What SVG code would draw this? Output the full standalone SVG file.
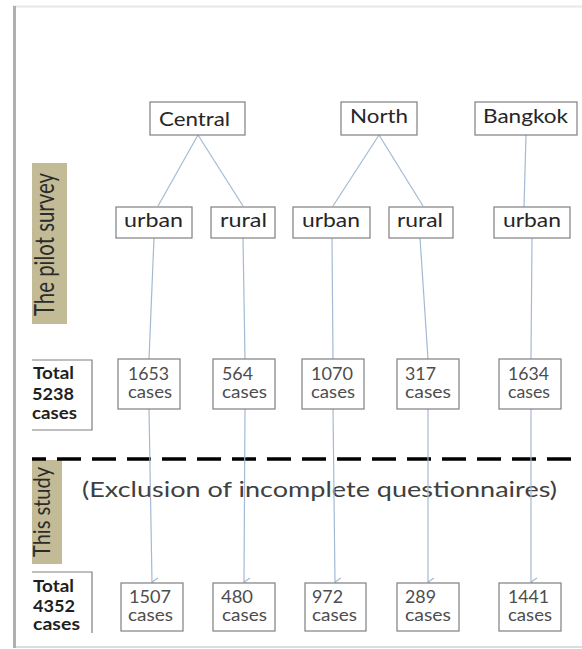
<svg xmlns="http://www.w3.org/2000/svg" width="582" height="649" viewBox="0 0 582 649">
<style>
.box{fill:#fff;stroke:#7f7f7f;stroke-width:1.2}
.lbl{font-family:Lato,"Open Sans",sans-serif;font-size:19px;fill:#262626}
.num{font-family:Lato,"Open Sans",sans-serif;font-size:17px;fill:#4d4d4d}
.tot{font-family:Lato,"Open Sans",sans-serif;font-size:17px;font-weight:bold;fill:#1f1f1f}
.side{font-family:Lato,"Open Sans",sans-serif;fill:#2b2b2b}
.con{stroke:#a3bad3;stroke-width:1.2;fill:none}
</style>
<defs>
<marker id="arr" markerUnits="userSpaceOnUse" markerWidth="12" markerHeight="12" refX="6" refY="8" orient="auto-start-reverse" viewBox="0 0 12 12">
<path d="M2,2 L6,8 L10,2" fill="none" stroke="#a3bad3" stroke-width="1.2"/>
</marker>
</defs>
<rect width="582" height="649" fill="#fff"/>
<g id="frame">
<line x1="13" y1="6.5" x2="582" y2="6.5" stroke="#e8e8e8" stroke-width="2"/>
<line x1="13" y1="647" x2="582" y2="647" stroke="#dcdcdc" stroke-width="2"/>
<line x1="14.5" y1="6" x2="14.5" y2="648" stroke="#b0b0b0" stroke-width="3"/>
</g>
<g id="labels">
<rect x="32" y="163" width="35" height="161" fill="#c3bb96"/>
<text class="side" font-size="26" transform="translate(54,316) rotate(-90)" textLength="143" lengthAdjust="spacingAndGlyphs">The pilot survey</text>
<rect x="32" y="460" width="30" height="104" fill="#c3bb96"/>
<text class="side" font-size="24" transform="translate(50,557) rotate(-90)" textLength="90" lengthAdjust="spacingAndGlyphs">This study</text>
<line x1="32" y1="459" x2="578" y2="459" stroke="#000" stroke-width="3.5" stroke-dasharray="24 11" stroke-dashoffset="10"/>
<text x="82" y="497" font-family="Lato,'Open Sans',sans-serif" font-size="22" fill="#404040" textLength="475" lengthAdjust="spacingAndGlyphs">(Exclusion of incomplete questionnaires)</text>
</g>
<g id="connectors">
<line class="con" x1="198" y1="135" x2="158" y2="206"/>
<line class="con" x1="198" y1="135" x2="243" y2="206"/>
<line class="con" x1="379" y1="135" x2="333" y2="206"/>
<line class="con" x1="379" y1="135" x2="423" y2="206"/>
<line class="con" x1="526" y1="135" x2="524" y2="207"/>
<line class="con" x1="154" y1="238" x2="149" y2="359"/>
<line class="con" x1="243" y1="238" x2="245" y2="359"/>
<line class="con" x1="332" y1="238" x2="333" y2="359"/>
<line class="con" x1="420" y1="238" x2="428" y2="359"/>
<line class="con" x1="532" y1="238" x2="531" y2="359"/>
<line class="con" x1="149" y1="409" x2="152" y2="582" marker-end="url(#arr)"/>
<line class="con" x1="245" y1="409" x2="244" y2="582" marker-end="url(#arr)"/>
<line class="con" x1="333" y1="409" x2="335" y2="582" marker-end="url(#arr)"/>
<line class="con" x1="428" y1="409" x2="428" y2="582" marker-end="url(#arr)"/>
<line class="con" x1="531" y1="409" x2="531" y2="582" marker-end="url(#arr)"/>
</g>
<g id="central"><rect class="box" x="150" y="102" width="95" height="33"/><text class="lbl" x="159" y="126" textLength="71" lengthAdjust="spacingAndGlyphs">Central</text></g>
<g id="north"><rect class="box" x="341" y="102" width="76" height="33"/><text class="lbl" x="350" y="123" textLength="58" lengthAdjust="spacingAndGlyphs">North</text></g>
<g id="bangkok"><rect class="box" x="475" y="102" width="102" height="33"/><text class="lbl" x="483" y="123" textLength="85" lengthAdjust="spacingAndGlyphs">Bangkok</text></g>
<g id="c-urban"><rect class="box" x="116" y="207" width="76" height="31"/><text class="lbl" x="124" y="227" textLength="59" lengthAdjust="spacingAndGlyphs">urban</text></g>
<g id="c-rural"><rect class="box" x="211" y="207" width="64" height="31"/><text class="lbl" x="220" y="227" textLength="47" lengthAdjust="spacingAndGlyphs">rural</text></g>
<g id="n-urban"><rect class="box" x="293" y="207" width="77" height="31"/><text class="lbl" x="302" y="227" textLength="58" lengthAdjust="spacingAndGlyphs">urban</text></g>
<g id="n-rural"><rect class="box" x="389" y="207" width="64" height="31"/><text class="lbl" x="397" y="227" textLength="46" lengthAdjust="spacingAndGlyphs">rural</text></g>
<g id="b-urban"><rect class="box" x="494" y="207" width="76" height="31"/><text class="lbl" x="503" y="227" textLength="58" lengthAdjust="spacingAndGlyphs">urban</text></g>
<g id="total-pilot"><path d="M32,360 H92 V430 H32" fill="none" stroke="#7f7f7f" stroke-width="1.2"/>
<text class="tot" x="33" y="379" textLength="41" lengthAdjust="spacingAndGlyphs">Total</text>
<text class="tot" x="32" y="400" textLength="42" lengthAdjust="spacingAndGlyphs">5238</text>
<text class="tot" x="32" y="419" textLength="45" lengthAdjust="spacingAndGlyphs">cases</text></g>
<g id="p1653"><rect class="box" x="118" y="359" width="62" height="50"/><text class="num" x="128" y="380" textLength="41" lengthAdjust="spacingAndGlyphs">1653</text><text class="num" x="128" y="398" textLength="44" lengthAdjust="spacingAndGlyphs">cases</text></g>
<g id="p564"><rect class="box" x="213" y="359" width="62" height="50"/><text class="num" x="222" y="380" textLength="31" lengthAdjust="spacingAndGlyphs">564</text><text class="num" x="222" y="398" textLength="45" lengthAdjust="spacingAndGlyphs">cases</text></g>
<g id="p1070"><rect class="box" x="302" y="359" width="62" height="50"/><text class="num" x="311" y="380" textLength="42" lengthAdjust="spacingAndGlyphs">1070</text><text class="num" x="311" y="398" textLength="44" lengthAdjust="spacingAndGlyphs">cases</text></g>
<g id="p317"><rect class="box" x="397" y="359" width="62" height="50"/><text class="num" x="405" y="380" textLength="31" lengthAdjust="spacingAndGlyphs">317</text><text class="num" x="405" y="398" textLength="46" lengthAdjust="spacingAndGlyphs">cases</text></g>
<g id="p1634"><rect class="box" x="499" y="359" width="62" height="50"/><text class="num" x="508" y="380" textLength="41" lengthAdjust="spacingAndGlyphs">1634</text><text class="num" x="508" y="398" textLength="42" lengthAdjust="spacingAndGlyphs">cases</text></g>
<g id="total-study"><path d="M32,572 H92 V633" fill="none" stroke="#7f7f7f" stroke-width="1.2"/>
<text class="tot" x="33" y="592" textLength="41" lengthAdjust="spacingAndGlyphs">Total</text>
<text class="tot" x="33" y="612" textLength="42" lengthAdjust="spacingAndGlyphs">4352</text>
<text class="tot" x="33" y="630" textLength="47" lengthAdjust="spacingAndGlyphs">cases</text></g>
<g id="s1507"><rect class="box" x="121" y="583" width="62" height="48"/><text class="num" x="129" y="603" textLength="42" lengthAdjust="spacingAndGlyphs">1507</text><text class="num" x="128" y="621" textLength="45" lengthAdjust="spacingAndGlyphs">cases</text></g>
<g id="s480"><rect class="box" x="213" y="583" width="62" height="48"/><text class="num" x="221" y="603" textLength="32" lengthAdjust="spacingAndGlyphs">480</text><text class="num" x="222" y="621" textLength="45" lengthAdjust="spacingAndGlyphs">cases</text></g>
<g id="s972"><rect class="box" x="305" y="583" width="61" height="48"/><text class="num" x="312" y="603" textLength="31" lengthAdjust="spacingAndGlyphs">972</text><text class="num" x="312" y="621" textLength="45" lengthAdjust="spacingAndGlyphs">cases</text></g>
<g id="s289"><rect class="box" x="397" y="583" width="62" height="48"/><text class="num" x="405" y="603" textLength="31" lengthAdjust="spacingAndGlyphs">289</text><text class="num" x="405" y="621" textLength="46" lengthAdjust="spacingAndGlyphs">cases</text></g>
<g id="s1441"><rect class="box" x="499" y="583" width="62" height="48"/><text class="num" x="508" y="603" textLength="41" lengthAdjust="spacingAndGlyphs">1441</text><text class="num" x="508" y="621" textLength="44" lengthAdjust="spacingAndGlyphs">cases</text></g>
</svg>
